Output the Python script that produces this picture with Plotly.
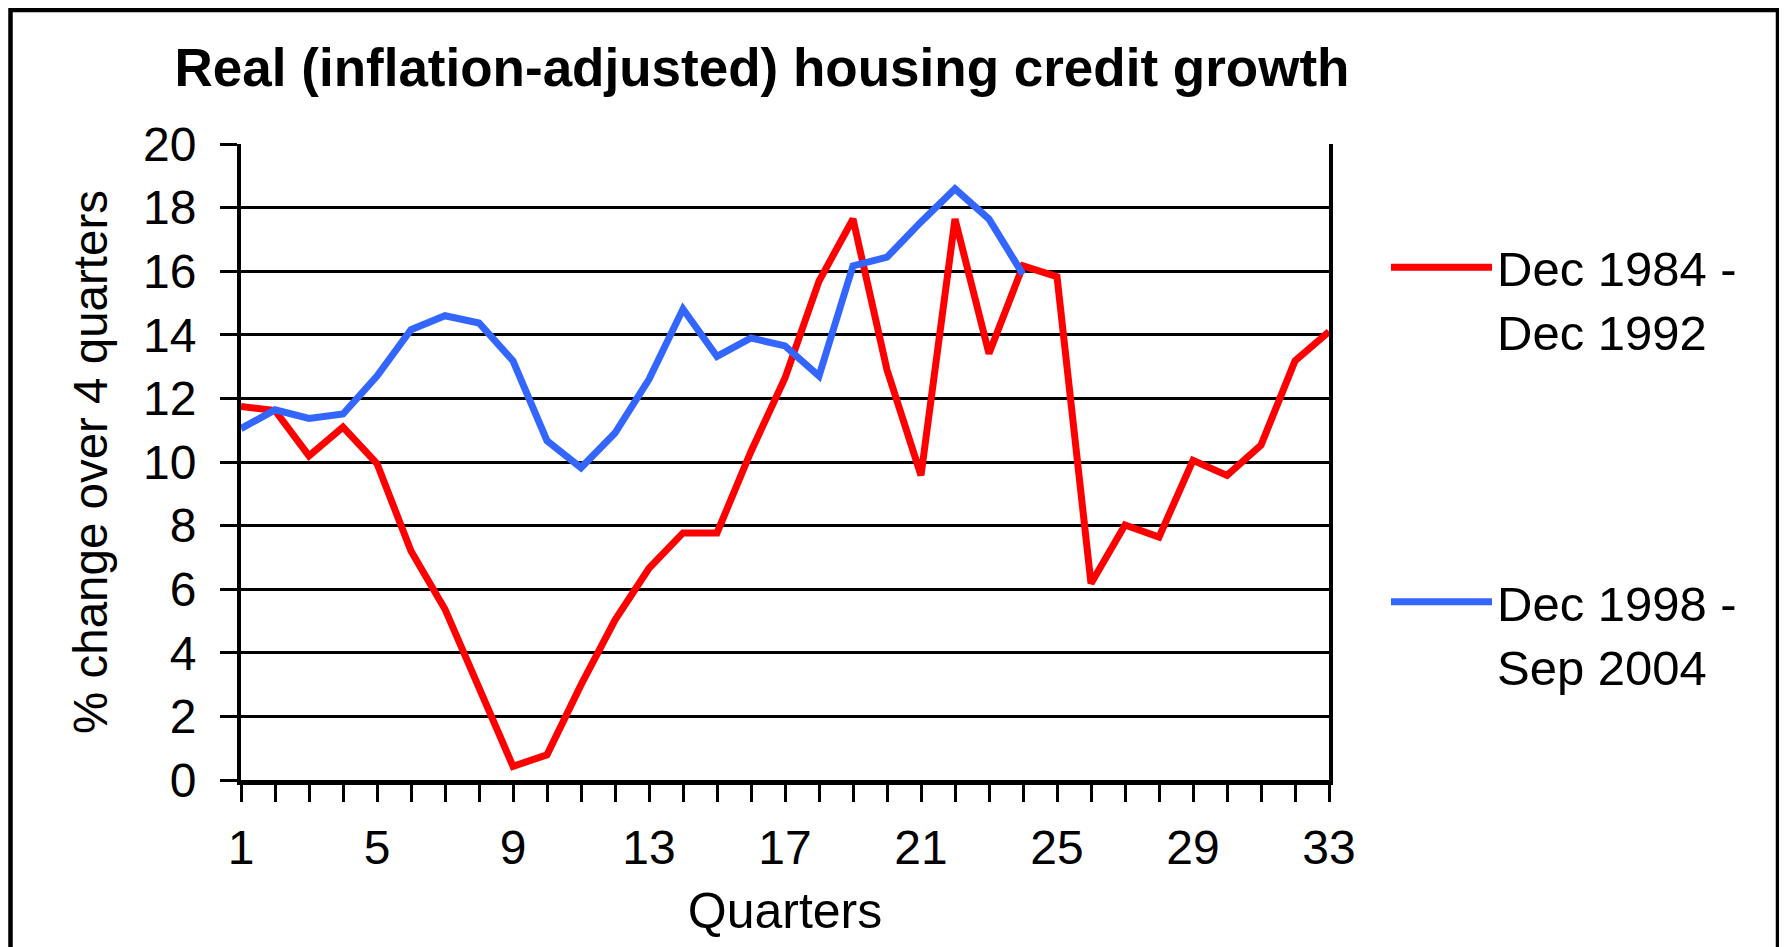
import plotly.graph_objects as go

quarters_red = list(range(1, 34))
red_values = [11.75, 11.62, 10.19, 11.1, 9.95, 7.2, 5.37, 2.92, 0.43, 0.79,
              2.99, 5.03, 6.66, 7.77, 7.77, 10.33, 12.64, 15.69, 17.64, 12.9,
              9.58, 17.64, 13.41, 16.17, 15.83, 6.18, 8.02, 7.64, 10.05, 9.58,
              10.53, 13.18, 14.1]

quarters_blue = list(range(1, 25))
blue_values = [11.05, 11.64, 11.37, 11.51, 12.7, 14.16, 14.6, 14.37, 13.18, 10.67,
               9.82, 10.91, 12.6, 14.81, 13.32, 13.9, 13.65, 12.7, 16.17, 16.44,
               17.55, 18.59, 17.64, 15.9]

red_name = "Dec 1984 -<br>Dec 1992"
blue_name = "Dec 1998 -<br>Sep 2004"
title_text = "Real (inflation-adjusted) housing credit growth"
x_title = "Quarters"
y_title = "% change over 4 quarters"

FONT = "Liberation Sans, Arial, sans-serif"
W, H = 1787, 947
L, R, T, B = 233, 1321, 136, 772
pw, ph = R - L, B - T

def px_to_paper_x(px):
    return (px - L) / pw

def py_to_paper_y(py):
    return (B - py) / ph

fig = go.Figure()
fig.add_trace(go.Scatter(x=quarters_red, y=red_values, mode="lines", name=red_name,
                         legendgroup="a", line=dict(color="#FF0000", width=7)))
fig.add_trace(go.Scatter(x=quarters_blue, y=blue_values, mode="lines", name=blue_name,
                         legendgroup="b", line=dict(color="#3366FF", width=7)))

fig.update_layout(
    width=W, height=H,
    margin=dict(l=L, r=W - R, t=T, b=H - B, autoexpand=False),
    paper_bgcolor="white", plot_bgcolor="white",
    font=dict(family=FONT, color="black", size=48),
    title=dict(text="<b>" + title_text + "</b>", font=dict(size=53, family=FONT, color="black"),
               x=px_to_paper_x(754), xref="paper", xanchor="center",
               y=1 - 59.5 / H, yref="container", yanchor="middle"),
    showlegend=True,
    legend=dict(x=px_to_paper_x(1378), y=py_to_paper_y(221), xanchor="left", yanchor="top",
                font=dict(size=49, family=FONT), tracegroupgap=204, valign="top",
                itemwidth=101,
                bgcolor="rgba(0,0,0,0)", borderwidth=0),
    xaxis=dict(range=[1, 33], tick0=1, dtick=4, ticks="outside", ticklen=17, tickwidth=2.5,
               tickcolor="black", showline=True, linecolor="black", linewidth=5,
               showgrid=False, zeroline=False, tickfont=dict(size=48),
               ticklabelstandoff=4,
               minor=dict(dtick=1, tick0=1, ticks="outside", ticklen=17, tickwidth=2.5,
                          tickcolor="black", showgrid=False),
               title=dict(text=x_title, font=dict(size=50), standoff=22)),
    yaxis=dict(range=[0, 20], tick0=0, dtick=2, ticks="outside", ticklen=17, tickwidth=2.5,
               tickcolor="black", showline=True, linecolor="black", linewidth=4, mirror=True,
               showgrid=True, gridcolor="black", gridwidth=3, zeroline=False,
               tickfont=dict(size=48), ticklabelstandoff=14,
               title=dict(text=y_title, font=dict(size=47.5), standoff=21)),
    shapes=[dict(type="rect", xref="paper", yref="paper",
                 x0=px_to_paper_x(2.5), x1=px_to_paper_x(1770),
                 y0=py_to_paper_y(960), y1=py_to_paper_y(2),
                 line=dict(color="black", width=4.5), fillcolor="rgba(0,0,0,0)", layer="above")],
)

fig.write_html("out.html")
